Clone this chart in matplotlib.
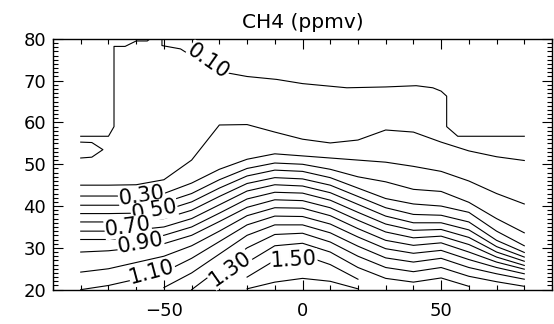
import numpy as np
import matplotlib
matplotlib.use("Agg")
import matplotlib.pyplot as plt
from matplotlib.ticker import MultipleLocator

# latitude columns where each contour altitude was read (km)
lats = [-80, -70, -60, -50, -40, -30, -20, -10, 0, 10, 20, 30, 40, 50, 60, 70, 80]

nan = np.nan
# altitude of each CH4 contour level at the columns above
levels = [0.2, 0.3, 0.4, 0.5, 0.6, 0.7, 0.8, 0.9, 1.0, 1.1, 1.2, 1.3, 1.4, 1.5, 1.6]
heights = [
    [45.0, 45.0, 45.1, 46.3, 51.0, 59.4, 59.5, 57.7, 56.0, 55.1, 55.8, 58.2, 57.7, 55.3, 53.2, 51.8, 50.9],
    [42.4, 42.4, 42.4, 43.0, 45.5, 48.8, 51.2, 52.5, 52.0, 51.5, 51.0, 50.5, 49.5, 48.3, 46.0, 43.0, 40.5],
    [40.2, 40.2, 40.2, 40.8, 43.0, 46.3, 49.0, 50.3, 50.0, 48.8, 47.0, 45.8, 44.0, 43.5, 40.9, 37.0, 33.6],
    [38.2, 38.2, 38.3, 38.9, 41.0, 44.3, 47.2, 48.6, 48.3, 46.8, 44.3, 41.8, 40.5, 40.0, 38.5, 34.0, 30.5],
    [36.2, 36.2, 36.4, 37.0, 39.0, 42.3, 45.4, 46.8, 46.5, 45.0, 42.3, 39.6, 38.0, 37.8, 36.2, 31.8, 28.9],
    [34.0, 34.0, 34.3, 35.0, 37.0, 40.3, 43.6, 45.1, 44.8, 43.2, 40.4, 37.6, 36.0, 36.0, 34.3, 30.3, 27.8],
    [32.0, 32.0, 32.3, 33.0, 35.0, 38.3, 41.7, 43.3, 43.1, 41.4, 38.5, 35.7, 34.2, 34.4, 32.5, 29.0, 26.8],
    [29.0, 29.3, 30.0, 31.0, 33.0, 36.3, 39.7, 41.5, 41.3, 39.6, 36.6, 33.8, 32.4, 32.8, 30.8, 27.8, 25.8],
    [24.2, 25.0, 26.5, 28.0, 30.5, 34.0, 37.7, 39.6, 39.5, 37.7, 34.6, 31.8, 30.6, 31.2, 29.0, 26.6, 24.9],
    [20.0, 21.0, 22.5, 24.2, 27.5, 31.5, 35.5, 37.6, 37.5, 35.7, 32.6, 29.8, 28.7, 29.4, 27.2, 25.3, 23.8],
    [nan, nan, nan, 20.5, 24.0, 28.5, 33.0, 35.5, 35.5, 33.6, 30.4, 27.6, 26.6, 27.5, 25.3, 23.8, 22.5],
    [nan, nan, nan, nan, 20.0, 25.0, 30.0, 33.2, 33.5, 31.4, 28.0, 25.3, 24.3, 25.3, 23.2, 21.9, 20.8],
    [nan, nan, nan, nan, nan, 21.0, 26.5, 30.5, 31.1, 29.0, 25.3, 22.7, 21.8, 22.8, 20.8, nan, nan],
    [nan, nan, nan, nan, nan, nan, 23.0, 27.0, 28.3, 26.0, 22.5, nan, nan, nan, nan, nan, nan],
    [nan, nan, nan, nan, nan, nan, 20.2, 21.8, 22.7, 22.0, 20.2, nan, nan, nan, nan, nan, nan],
]

# 0.10 contour, read as polylines (it bends around the missing polar data)
c010_south_lat = [-80, -70, -68, -68, -64, -60, -56, -55]
c010_south_alt = [56.7, 56.7, 59.0, 78.2, 78.2, 79.5, 79.5, 80.0]
c010_main_lat = [-50.7, -50.7, -44, -31.6, -20, -9.3, 0, 16, 30, 41, 47, 50, 52, 52, 56, 80]
c010_main_alt = [80.0, 78.4, 77.6, 72.4, 71.0, 70.3, 69.3, 68.3, 68.5, 68.8, 68.3, 67.5, 66.3, 59.0, 56.7, 56.7]
c010_pocket_lat = [-80, -76, -72, -76, -80]
c010_pocket_alt = [55.3, 55.2, 53.5, 51.7, 51.5]

label_text = ["0.10", "0.30", "0.50", "0.70", "0.90", "1.10", "1.30", "1.50"]
label_lat = [-34, -58, -53.5, -63, -58.5, -54.3, -26.2, -3.1]
label_alt = [74.6, 42.4, 39.0, 35.0, 31.2, 24.2, 25.0, 27.1]
label_rot = [-35, 8, 10, 8, 10, 15, 35, 3]

fig = plt.figure(figsize=(5.54, 3.24), dpi=100)
ax = fig.add_axes([0.0957, 0.106, 0.9007, 0.774])

lw = 0.8
for row in heights:
    ax.plot(lats, row, color="black", lw=lw)
ax.plot(c010_south_lat, c010_south_alt, color="black", lw=lw)
ax.plot(c010_main_lat, c010_main_alt, color="black", lw=lw)
ax.plot(c010_pocket_lat, c010_pocket_alt, color="black", lw=lw)

for t, x, y, r in zip(label_text, label_lat, label_alt, label_rot):
    ax.text(x, y, t, fontsize=15, rotation=r, ha="center", va="center",
            rotation_mode="anchor",
            bbox=dict(facecolor="white", edgecolor="none", pad=0.3), zorder=3)

ax.set_xlim(-90, 90)
ax.set_ylim(20, 80)
ax.xaxis.set_major_locator(MultipleLocator(50))
ax.xaxis.set_minor_locator(MultipleLocator(10))
ax.yaxis.set_major_locator(MultipleLocator(10))
ax.yaxis.set_minor_locator(MultipleLocator(1))
ax.tick_params(which="both", direction="in", top=True, right=True,
               labelsize=13, width=0.8)
ax.tick_params(which="major", length=7, pad=5)
ax.tick_params(which="minor", length=3.5)
ax.tick_params(axis="x", which="major", pad=9)
for s in ax.spines.values():
    s.set_linewidth(1.0)
ax.set_title("CH4 (ppmv)", fontsize=14.5, pad=8)

fig.savefig("out.png", dpi=100)
